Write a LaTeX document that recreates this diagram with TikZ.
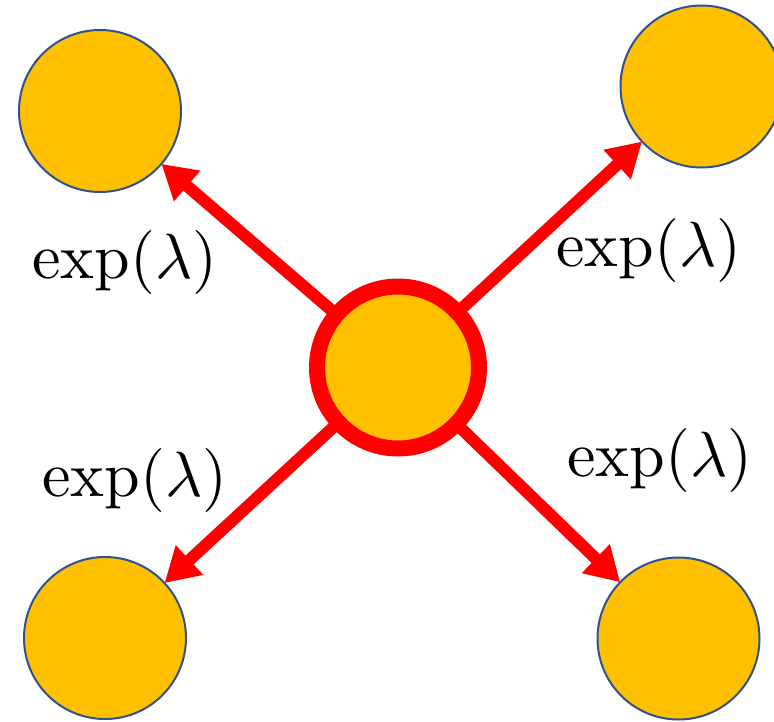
\documentclass[tikz,border=0pt]{standalone}
\usetikzlibrary{arrows.meta}
\definecolor{gold}{HTML}{FFC000}
\definecolor{ringblue}{HTML}{2F528F}
\definecolor{arrred}{HTML}{FF0000}
\begin{document}
\begin{tikzpicture}[x=1pt,y=-1pt,
  ball/.style={circle,fill=gold,draw=ringblue,line width=2pt,minimum size=162pt,inner sep=0pt,outer sep=0pt},
  hub/.style={circle,fill=gold,draw=arrred,line width=16pt,minimum size=162pt,inner sep=0pt,outer sep=0pt},
  flow/.style={draw=arrred,line width=12pt,-{Triangle[length=34pt,width=38pt]}},
  lab/.style={scale=6.4,transform shape,inner sep=0pt}]
\useasboundingbox (0,0) rectangle (774,721);
\node[ball] (tl) at (100,111) {};
\node[ball] (tr) at (701.5,86.5) {};
\node[ball] (bl) at (105,638) {};
\node[ball] (br) at (678.5,638.5) {};
\node[hub] (c) at (398,367.5) {};
\draw[flow] (c) -- (tl);
\draw[flow] (c) -- (tr);
\draw[flow] (c) -- (bl);
\draw[flow] (c) -- (br);
\node[lab] (ltl) at (125,262) {$\exp(\lambda)$};
\node[lab] (ltr) at (649,250) {$\exp(\lambda)$};
\node[lab] (lbl) at (135,480) {$\exp(\lambda)$};
\node[lab] (lbr) at (660,460) {$\exp(\lambda)$};
\end{tikzpicture}
\end{document}
